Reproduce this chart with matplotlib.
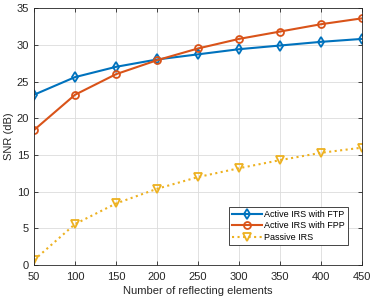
import matplotlib
matplotlib.use("Agg")
import matplotlib.pyplot as plt

plt.rcParams['font.family'] = ['Liberation Sans', 'DejaVu Sans']

N = [50, 100, 150, 200, 250, 300, 350, 400, 450]
ftp = [23.2, 25.6, 27.0, 28.0, 28.7, 29.4, 29.9, 30.4, 30.8]
fpp = [18.4, 23.2, 26.0, 27.9, 29.5, 30.8, 31.8, 32.8, 33.6]
passive = [0.7, 5.6, 8.4, 10.4, 12.0, 13.2, 14.3, 15.3, 16.0]
labels = ['Active IRS with FTP', 'Active IRS with FPP', 'Passive IRS']
xticks = [50, 100, 150, 200, 250, 300, 350, 400, 450]
yticks = [0, 5, 10, 15, 20, 25, 30, 35]

fig = plt.figure(figsize=(3.74, 2.98), dpi=100)
ax = fig.add_axes([0.091, 0.11, 0.877, 0.863])

ax.plot(N, ftp, color='#0072BD', lw=1.5, marker='d', ms=5, mfc='none', mew=1.3, label=labels[0])
ax.plot(N, fpp, color='#D95319', lw=1.5, marker='o', ms=5, mfc='none', mew=1.3, label=labels[1])
ax.plot(N, passive, color='#EDB120', lw=1.5, ls=':', marker='v', ms=6, mfc='none', mew=1.3, label=labels[2])

ax.set_xlim(50, 450)
ax.set_ylim(0, 35)
ax.set_xticks(xticks)
ax.set_yticks(yticks)
ax.grid(True, color='#dcdcdc', lw=0.6)
ax.set_axisbelow(True)
ax.tick_params(direction='in', top=True, right=True, labelsize=8, colors='#262626', length=3, width=0.6)
ax.tick_params(axis='x', pad=5)
for s in ax.spines.values():
    s.set_color('#262626')
    s.set_linewidth(0.6)
ax.set_xlabel('Number of reflecting elements', fontsize=8, color='#262626', labelpad=3)
ax.set_ylabel('SNR (dB)', fontsize=8, color='#262626', labelpad=2)

leg = ax.legend(loc='lower right', fontsize=6.5, fancybox=False, framealpha=1,
                edgecolor='#262626', borderpad=0.35, labelspacing=0.3, handlelength=3.3,
                handletextpad=0.25, bbox_to_anchor=(0.97, 0.06))
leg.get_frame().set_linewidth(0.6)

fig.savefig('out.png', dpi=100)
